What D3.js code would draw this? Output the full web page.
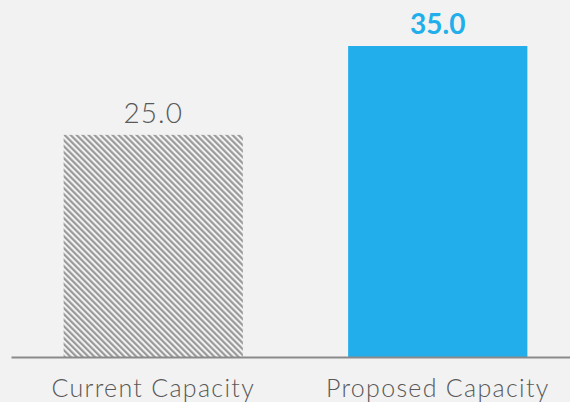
<!DOCTYPE html>
<html>
<head>
<meta charset="utf-8">
<script src="https://cdn.jsdelivr.net/npm/d3@7"></script>
<style>
  html, body { margin: 0; padding: 0; background: #f2f2f2; }
  svg { display: block; }
</style>
</head>
<body>
<svg id="chart" width="570" height="402"></svg>
<script>
// Capacity comparison data
const categories = ["Current Capacity", "Proposed Capacity"];
const values = [25.0, 35.0];
const yDomain = [0, 40];

const W = 570, H = 402;
const svg = d3.select("#chart");
svg.append("rect").attr("width", W).attr("height", H).attr("fill", "#f2f2f2");

// Diagonal hatching for the current-capacity bar
const defs = svg.append("defs");
const pat = defs.append("pattern")
  .attr("id", "hatch")
  .attr("patternUnits", "userSpaceOnUse")
  .attr("width", 4.24).attr("height", 4.24)
  .attr("patternTransform", "rotate(-45)");
pat.append("rect").attr("width", 4.24).attr("height", 4.24).attr("fill", "#f5f5f5");
pat.append("rect").attr("width", 2.2).attr("height", 4.24).attr("fill", "#999999");

const x = d3.scaleBand()
  .domain(categories)
  .range([11, 580])
  .paddingInner(0.37)
  .paddingOuter(0.185);

const y = d3.scaleLinear().domain(yDomain).range([357, 1.6]);

const fills = ["url(#hatch)", "#22aeea"];

svg.selectAll("rect.bar")
  .data(values)
  .join("rect")
  .attr("class", "bar")
  .attr("x", (d, i) => x(categories[i]))
  .attr("width", x.bandwidth())
  .attr("y", d => y(d))
  .attr("height", d => y(0) - y(d))
  .attr("fill", (d, i) => fills[i]);

// Value labels above bars
svg.selectAll("text.val")
  .data(values)
  .join("text")
  .attr("class", "val")
  .attr("x", (d, i) => x(categories[i]) + x.bandwidth() / 2)
  .attr("y", d => y(d) - 12)
  .attr("text-anchor", "middle")
  .attr("font-family", "Lato, 'Open Sans', sans-serif")
  .attr("font-size", 28)
  .attr("font-weight", (d, i) => i === 1 ? "bold" : "300")
  .attr("letter-spacing", (d, i) => i === 1 ? 0 : 1)
  .attr("fill", (d, i) => i === 1 ? "#22aeea" : "#595959")
  .text(d => d.toFixed(1));

// Category axis
const axis = svg.append("g")
  .attr("transform", `translate(0,${y(0)})`)
  .call(d3.axisBottom(x).tickSize(0).tickSizeOuter(0).tickPadding(22));
axis.select(".domain").attr("stroke", "#8a8a8a").attr("stroke-width", 2);
axis.selectAll("text")
  .attr("font-family", "Lato, 'Open Sans', sans-serif")
  .attr("font-size", 25)
  .attr("font-weight", "300")
  .attr("letter-spacing", 1.3)
  .attr("fill", "#595959");
</script>
</body>
</html>
